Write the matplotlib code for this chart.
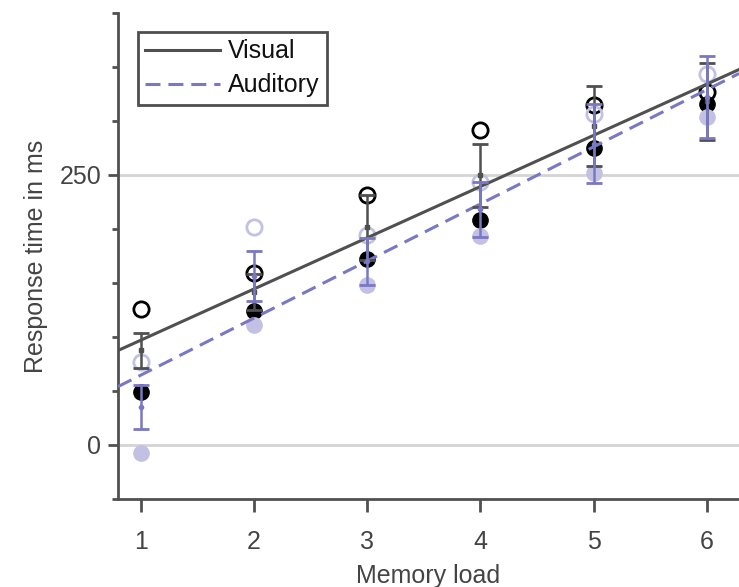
"""Response time versus memory load, visual and auditory conditions."""

import matplotlib

matplotlib.use("Agg")
import matplotlib.pyplot as plt
import numpy as np
from matplotlib.ticker import MultipleLocator

# values
memory_load = [1, 2, 3, 4, 5, 6]
visual_open = [126, 159, 231, 292, 315, 327]
visual_filled = [49, 124, 172, 208, 275, 316]
visual_mean = [87.5, 141.7, 201.5, 249.5, 295, 318]
visual_err = [16.5, 17, 30, 29, 37, 36]
auditory_open = [77, 202, 194, 243, 306, 343]
auditory_filled = [-7, 111, 148, 193, 252, 304]
auditory_mean = [35, 156.5, 170, 218, 279, 322]
auditory_err = [20.5, 23.5, 22, 25.5, 36.5, 38]

DARK = "#505050"
LAVENDER = "#7a78c2"
LIGHT_LAVENDER = "#c3c1e3"
TEXT = "#444444"
FONT_SIZE = 18

plt.rcParams["font.family"] = ["Liberation Sans", "DejaVu Sans"]
plt.rcParams["font.size"] = FONT_SIZE

fig = plt.figure(figsize=(7.39, 5.87), dpi=100)
ax = fig.add_axes([0.1597, 0.150, 0.8403, 0.828])

x = np.array(memory_load)
ax.axhline(0, color="#d4d4d4", lw=2, zorder=0)
ax.axhline(250, color="#d4d4d4", lw=2, zorder=0)

marker_kw = dict(linestyle="none", marker="o", markersize=11, zorder=3)
ax.plot(x, visual_open, markerfacecolor="none", markeredgecolor="black",
        markeredgewidth=2, **marker_kw)
ax.plot(x, visual_filled, color="black", **marker_kw)
ax.plot(x, auditory_open, markerfacecolor="none", markeredgecolor=LIGHT_LAVENDER,
        markeredgewidth=2, **marker_kw)
ax.plot(x, auditory_filled, color=LIGHT_LAVENDER, **marker_kw)

# regression lines through the condition means
xlim = (0.8, 6.283)
line_x = np.array(xlim)
for means, color, style, label in (
    (visual_mean, DARK, "-", "Visual"),
    (auditory_mean, LAVENDER, (0, (4.9, 2.6)), "Auditory"),
):
    slope, intercept = np.polyfit(x, means, 1)
    ax.plot(line_x, intercept + slope * line_x, color=color, lw=2.2,
            linestyle=style, label=label, zorder=4)

ax.errorbar(x, visual_mean, yerr=visual_err, color=DARK, lw=1.8, capsize=5.5,
            capthick=2, marker="s", markersize=3, linestyle="none", zorder=5)
ax.errorbar(x, auditory_mean, yerr=auditory_err, color=LAVENDER, lw=1.8,
            capsize=5.5, capthick=2, marker="o", markersize=3, linestyle="none",
            zorder=6)

ax.set_xlim(*xlim)
ax.set_ylim(-50, 400)
ax.set_xticks(memory_load)
ax.set_yticks([0, 250])
ax.yaxis.set_minor_locator(MultipleLocator(50))

for side in ("top", "right"):
    ax.spines[side].set_visible(False)
for side in ("left", "bottom"):
    ax.spines[side].set_color(DARK)
    ax.spines[side].set_linewidth(2)

ax.tick_params(axis="y", which="major", length=7, width=2, color=DARK,
               labelcolor=TEXT, labelsize=FONT_SIZE, pad=5)
ax.tick_params(axis="y", which="minor", length=4, width=2, color=DARK)
ax.tick_params(axis="x", length=9, width=2, color=DARK, labelcolor=TEXT,
               labelsize=FONT_SIZE, pad=13)

ax.set_xlabel("Memory load", color=TEXT, fontsize=FONT_SIZE, labelpad=7.5)
ax.set_ylabel("Response time in ms", color=TEXT, fontsize=FONT_SIZE, labelpad=8)

legend = ax.legend(loc="upper left", bbox_to_anchor=(0.032, 0.961),
                   fontsize=FONT_SIZE, frameon=True, fancybox=False,
                   handlelength=3.0, borderpad=0.3, labelspacing=0.4,
                   handletextpad=0.3, borderaxespad=0)
legend.get_frame().set_edgecolor("#222222")
legend.get_frame().set_linewidth(2)
for text in legend.get_texts():
    text.set_color("#111111")

fig.savefig("out.png", dpi=100)
